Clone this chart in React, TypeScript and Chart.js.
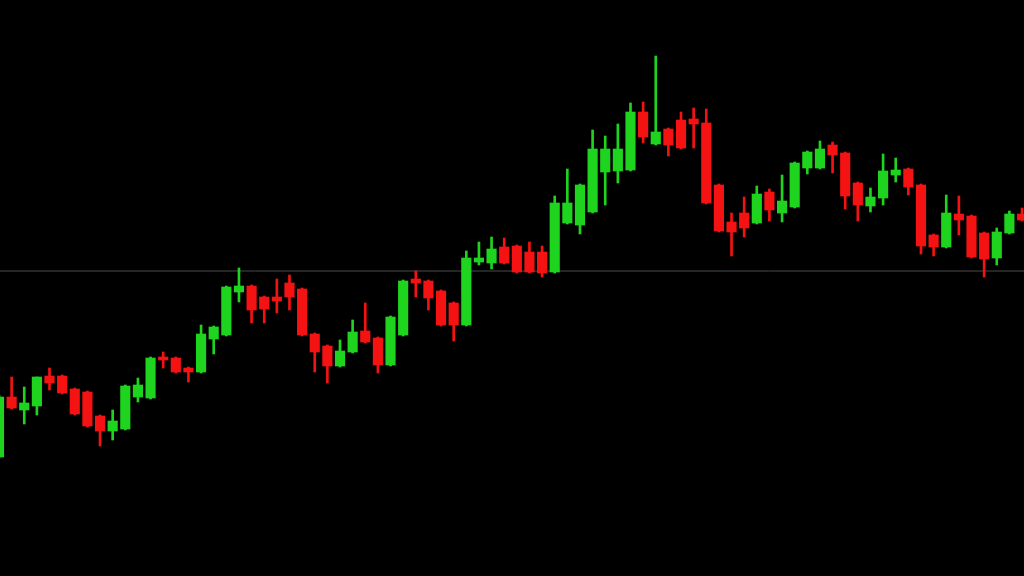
import React, { useEffect, useRef } from "react";
import { Chart, registerables } from "chart.js";

Chart.register(...registerables);

// OHLC price series (one entry per session)
const openPrices = [
  119, 179, 166, 170, 200, 200, 187, 184, 160, 145,
  147, 179, 178, 219, 218, 208, 204, 237, 241, 284,
  290, 279, 279, 293, 287, 242, 230, 210, 224, 245,
  238, 211, 241, 297, 295, 285, 273, 251, 314, 313,
  329, 330, 324, 324, 304, 353, 351, 364, 404, 405,
  406, 464, 432, 447, 456, 457, 453, 391, 354, 363,
  353, 384, 363, 369, 408, 408, 431, 423, 393, 370,
  378, 401, 407, 391, 341, 329, 362, 360, 343, 318,
  343, 362,
];
const closePrices = [
  179, 168, 173, 199, 193, 183, 162, 150, 145, 155,
  190, 191, 218, 216, 204, 204, 242, 249, 289, 290,
  266, 267, 275, 279, 241, 224, 210, 225, 244, 234,
  211, 259, 295, 293, 278, 251, 251, 318, 318, 327,
  313, 304, 304, 303, 373, 373, 391, 427, 427, 427,
  464, 439, 444, 431, 428, 452, 373, 345, 344, 348,
  382, 366, 375, 413, 424, 427, 421, 380, 371, 379,
  405, 406, 389, 330, 329, 363, 356, 319, 317, 344,
  362, 356,
];
const highPrices = [
  181, 199, 189, 199, 208, 201, 188, 185, 161, 166,
  191, 198, 219, 224, 219, 209, 251, 250, 290, 308,
  291, 280, 297, 301, 288, 243, 231, 236, 256, 273,
  239, 260, 296, 305, 296, 286, 274, 325, 334, 339,
  338, 331, 334, 330, 380, 407, 392, 446, 440, 452,
  473, 474, 520, 448, 464, 468, 467, 392, 363, 379,
  390, 387, 401, 414, 425, 435, 434, 424, 394, 388,
  422, 418, 408, 392, 342, 381, 380, 361, 344, 348,
  365, 368,
];
const lowPrices = [
  118, 167, 152, 161, 186, 182, 161, 149, 130, 136,
  146, 174, 177, 208, 203, 194, 203, 222, 240, 274,
  253, 253, 263, 266, 240, 204, 193, 209, 223, 233,
  203, 210, 240, 279, 266, 250, 235, 250, 311, 307,
  312, 303, 303, 299, 303, 352, 342, 363, 371, 393,
  405, 433, 431, 420, 427, 428, 372, 344, 320, 339,
  352, 355, 354, 368, 402, 407, 403, 367, 355, 364,
  371, 394, 381, 322, 320, 328, 341, 318, 299, 311,
  342, 355,
];
const referenceLevel = 305;

const UP = "#1fd41f";
const DOWN = "#f51212";

export default function App() {
  const canvasRef = useRef<HTMLCanvasElement | null>(null);

  useEffect(() => {
    document.body.style.margin = "0";
    document.body.style.background = "#000";
    const canvas = canvasRef.current;
    if (!canvas) return;
    const n = openPrices.length;
    const idx = openPrices.map((_, i) => i);
    const colors = idx.map((i) => (closePrices[i] >= openPrices[i] ? UP : DOWN));

    const chart = new Chart(canvas, {
      type: "bar",
      data: {
        datasets: [
          {
            type: "bar",
            label: "body",
            data: idx.map((i) => ({ x: i, y: [openPrices[i], closePrices[i]] })) as any,
            backgroundColor: colors,
            borderWidth: 0,
            borderSkipped: false,
            barThickness: 9.5,
            grouped: false,
          } as any,
          {
            type: "bar",
            label: "wick",
            data: idx.map((i) => ({ x: i, y: [lowPrices[i], highPrices[i]] })) as any,
            backgroundColor: colors,
            borderWidth: 0,
            borderSkipped: false,
            barThickness: 2,
            grouped: false,
          } as any,
          {
            type: "line",
            label: "level",
            data: [
              { x: -5, y: referenceLevel },
              { x: n + 5, y: referenceLevel },
            ],
            borderColor: "#4a4a4a",
            borderWidth: 1,
            pointRadius: 0,
          } as any,
        ],
      },
      options: {
        responsive: false,
        animation: false,
        maintainAspectRatio: false,
        layout: { padding: 0 },
        plugins: {
          legend: { display: false },
          tooltip: { enabled: false },
        },
        scales: {
          x: {
            type: "linear",
            display: false,
            min: 0.08,
            max: 0.08 + 1024 / 12.63,
            offset: false,
            grid: { display: false },
          },
          y: {
            type: "linear",
            display: false,
            min: 0,
            max: 576,
            grid: { display: false },
          },
        },
      },
    });
    return () => chart.destroy();
  }, []);

  return (
    <div
      style={{
        position: "fixed",
        left: 0,
        top: 0,
        width: 1024,
        height: 576,
        background: "#000",
      }}
    >
      <canvas ref={canvasRef} width={1024} height={576} style={{ display: "block" }} />
    </div>
  );
}
